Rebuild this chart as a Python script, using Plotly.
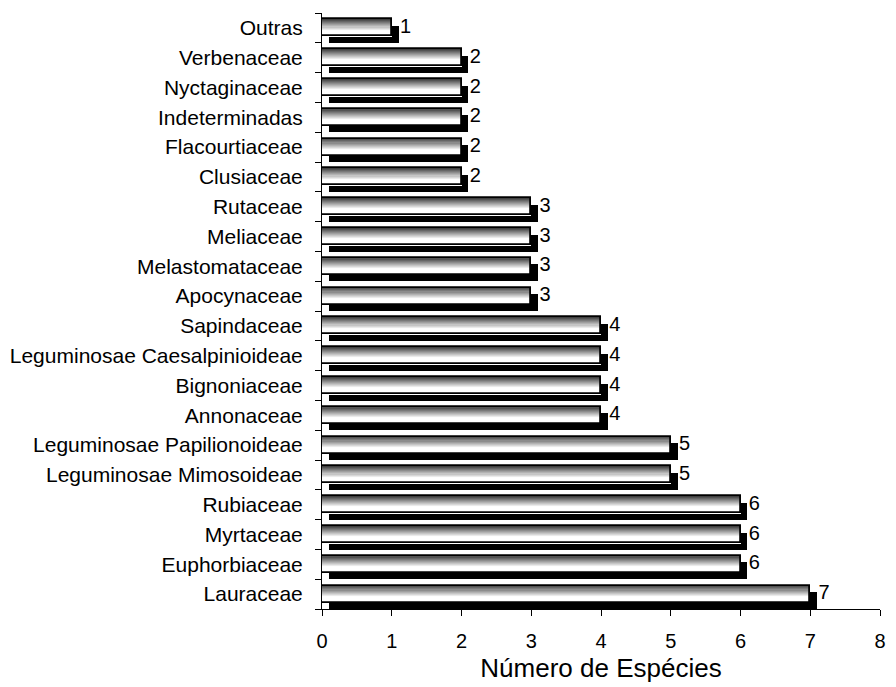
import plotly.graph_objects as go

# Families, bottom to top
familias = [
    "Lauraceae", "Euphorbiaceae", "Myrtaceae", "Rubiaceae",
    "Leguminosae Mimosoideae", "Leguminosae Papilionoideae",
    "Annonaceae", "Bignoniaceae", "Leguminosae Caesalpinioideae", "Sapindaceae",
    "Apocynaceae", "Melastomataceae", "Meliaceae", "Rutaceae",
    "Clusiaceae", "Flacourtiaceae", "Indeterminadas", "Nyctaginaceae",
    "Verbenaceae", "Outras",
]
especies = [7, 6, 6, 6, 5, 5, 4, 4, 4, 4, 3, 3, 3, 3, 2, 2, 2, 2, 2, 1]
x_ticks = [0, 1, 2, 3, 4, 5, 6, 7, 8]

pos = list(range(len(familias)))
bar_h = 0.57          # bar thickness in category units
shadow_dx = 0.10      # shadow shift to the right (x units)
shadow_dy = 0.22      # shadow shift downward (category units)
label_gap = 0.02      # extra space between shadow and value label
n_strips = 16         # horizontal bands used for the shaded fill
FONT = "Liberation Sans, Arial"

fig = go.Figure()

# drop shadow
fig.add_trace(go.Bar(
    orientation="h", y=[p - shadow_dy for p in pos], x=especies,
    base=[shadow_dx] * len(pos), width=bar_h,
    marker=dict(color="black", line=dict(width=0)),
    hoverinfo="skip", showlegend=False,
))

# shaded fill: dark at the top edge fading to white toward the bottom
strip_h = bar_h / n_strips
for k in range(n_strips):
    t = (k + 0.5) / n_strips
    g = int(55 + (255 - 55) * min(1.0, t / 0.66))
    off = bar_h / 2 - (k + 0.5) * strip_h
    fig.add_trace(go.Bar(
        orientation="h", y=[p + off for p in pos], x=especies,
        width=strip_h * 1.1,
        marker=dict(color=f"rgb({g},{g},{g})", line=dict(width=0)),
        hoverinfo="skip", showlegend=False,
    ))

# outline
fig.add_trace(go.Bar(
    orientation="h", y=pos, x=especies, width=bar_h,
    marker=dict(color="rgba(0,0,0,0)", line=dict(color="black", width=1.8)),
    showlegend=False,
))

# value labels
fig.add_trace(go.Scatter(
    x=[v + shadow_dx + label_gap for v in especies], y=pos,
    mode="text", text=[str(v) for v in especies],
    textposition="middle right",
    textfont=dict(family=FONT, size=20, color="black"),
    hoverinfo="skip", showlegend=False, cliponaxis=False,
))

fig.update_layout(
    width=896, height=687,
    margin=dict(l=321, r=10, t=13, b=77),
    barmode="overlay", bargap=0,
    plot_bgcolor="white", paper_bgcolor="white",
    font=dict(family=FONT, size=20, color="black"),
    showlegend=False,
)

fig.update_xaxes(
    range=[0, 8], tickvals=x_ticks, ticktext=[str(t) for t in x_ticks],
    showgrid=False, zeroline=False,
    showline=True, linecolor="black", linewidth=1,
    ticks="outside", ticklen=6, tickcolor="black", tickwidth=1,
    tickfont=dict(size=20), ticklabelstandoff=8,
    title=dict(text="Número de Espécies", font=dict(size=26), standoff=7),
)

fig.update_yaxes(
    range=[-0.5, len(familias) - 0.5],
    tickvals=pos, ticktext=familias, ticks="",
    showgrid=False, zeroline=False,
    showline=True, linecolor="black", linewidth=1,
    tickfont=dict(size=21), ticklabelstandoff=14,
    minor=dict(tickvals=[p - 0.5 for p in pos] + [len(pos) - 0.5],
               ticks="outside", ticklen=6, tickcolor="black", tickwidth=1,
               showgrid=False),
)

fig.write_html("out.html")
